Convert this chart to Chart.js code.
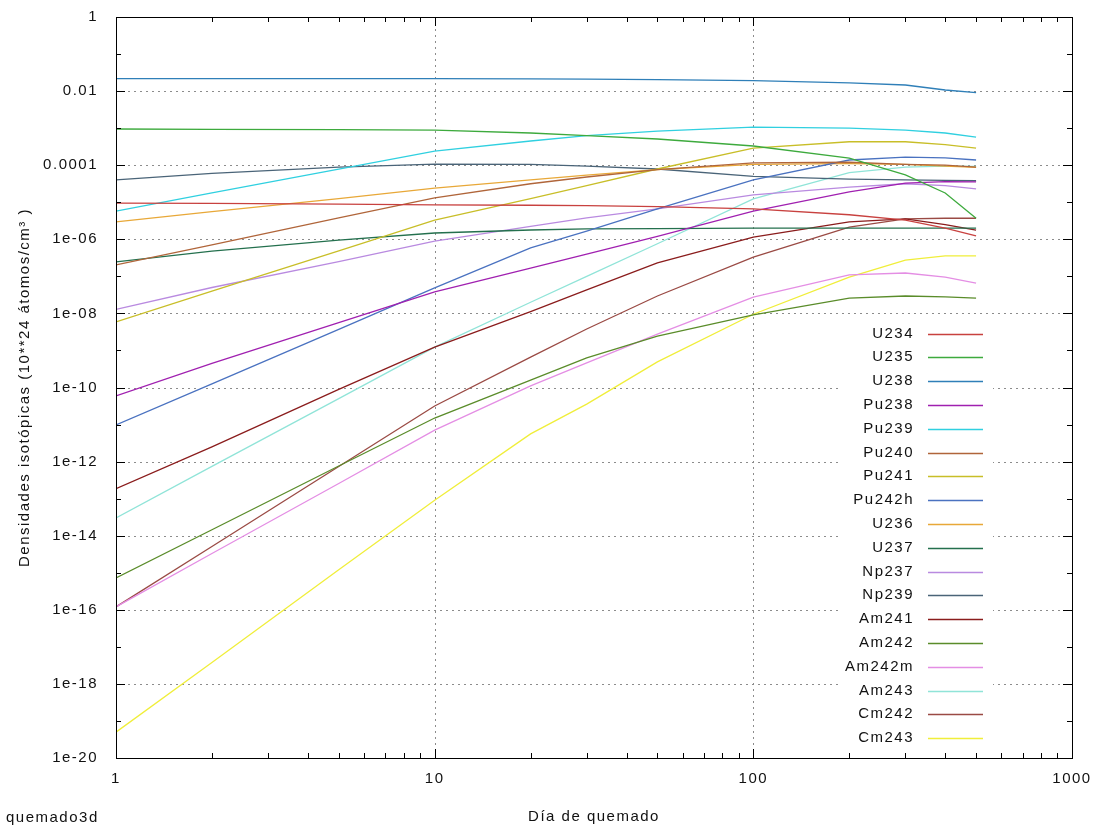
<!DOCTYPE html>
<html>
<head>
<meta charset="utf-8">
<script src="https://cdn.jsdelivr.net/npm/chart.js@4.4.0/dist/chart.umd.min.js"></script>
<style>
  html, body { margin: 0; padding: 0; background: #fff; }
</style>
</head>
<body>
<canvas id="grafico" width="1096" height="826"></canvas>
<script>
// dias de quemado (eje x)
const dias = [1, 2, 5, 10, 20, 30, 50, 100, 200, 300, 400, 500];

// densidades (10**24 atomos/cm3)
const u234   = [9.5e-6, 9.3e-6, 8.9e-6, 8.5e-6, 8.3e-6, 8.1e-6, 7.6e-6, 6.6e-6, 4.6e-6, 3.3e-6, 2.0e-6, 1.23e-6];
const u235   = [9.5e-4, 9.3e-4, 9.1e-4, 8.9e-4, 7.4e-4, 6.3e-4, 5.1e-4, 3.3e-4, 1.55e-4, 5.5e-5, 1.78e-5, 3.7e-6];
const u238   = [2.16e-2, 2.16e-2, 2.16e-2, 2.16e-2, 2.14e-2, 2.1e-2, 2.04e-2, 1.91e-2, 1.66e-2, 1.46e-2, 1.07e-2, 9.1e-3];
const pu238  = [5.9e-11, 4.5e-10, 5.6e-9, 3.8e-8, 1.66e-7, 4.0e-7, 1.2e-6, 5.75e-6, 1.9e-5, 3.3e-5, 3.6e-5, 3.55e-5];
const pu239  = [5.75e-6, 1.78e-5, 7.8e-5, 2.4e-4, 4.5e-4, 6.3e-4, 8.3e-4, 1.07e-3, 1.0e-3, 8.9e-4, 7.4e-4, 5.75e-4];
const pu240  = [2.04e-7, 7.1e-7, 3.8e-6, 1.32e-5, 3.16e-5, 4.8e-5, 7.6e-5, 1.15e-4, 1.2e-4, 1.05e-4, 1.0e-4, 8.9e-5];
const pu241  = [5.9e-9, 4.0e-8, 4.9e-7, 3.3e-6, 1.26e-5, 2.8e-5, 7.9e-5, 2.9e-4, 4.3e-4, 4.3e-4, 3.6e-4, 2.9e-4];
const pu242h = [9.8e-12, 1.26e-10, 3.7e-9, 4.9e-8, 5.9e-7, 1.66e-6, 6.6e-6, 4.0e-5, 1.38e-4, 1.66e-4, 1.58e-4, 1.38e-4];
const u236   = [2.95e-6, 5.6e-6, 1.26e-5, 2.4e-5, 4.0e-5, 5.4e-5, 7.6e-5, 1.05e-4, 1.1e-4, 1.05e-4, 9.5e-5, 8.7e-5];
const u237   = [2.45e-7, 4.8e-7, 9.5e-7, 1.48e-6, 1.78e-6, 1.9e-6, 1.95e-6, 2.0e-6, 2.0e-6, 2.0e-6, 2.0e-6, 2.0e-6];
const np237  = [1.29e-8, 5.0e-8, 2.5e-7, 8.9e-7, 2.24e-6, 3.8e-6, 6.6e-6, 1.58e-5, 2.57e-5, 3.16e-5, 2.8e-5, 2.3e-5];
const np239  = [4.0e-5, 6.0e-5, 8.9e-5, 1.07e-4, 1.05e-4, 9.5e-5, 7.9e-5, 5.0e-5, 4.2e-5, 4.0e-5, 3.9e-5, 3.8e-5];
const am241  = [1.86e-13, 2.5e-12, 8.9e-11, 1.23e-9, 1.12e-8, 4.3e-8, 2.3e-7, 1.15e-6, 2.95e-6, 3.55e-6, 2.5e-6, 1.78e-6];
const am242  = [7.2e-16, 1.45e-14, 7.6e-13, 1.5e-11, 1.58e-10, 6.3e-10, 2.45e-9, 9.1e-9, 2.6e-8, 2.95e-8, 2.8e-8, 2.6e-8];
const am242m = [1.2e-16, 3.3e-15, 2.57e-13, 7.1e-12, 1.1e-10, 4.6e-10, 2.75e-9, 2.75e-8, 1.1e-7, 1.23e-7, 9.5e-8, 6.6e-8];
const am243  = [3.0e-14, 7.4e-13, 5.0e-11, 1.23e-9, 2.0e-8, 1.0e-7, 7.6e-7, 1.23e-5, 6.3e-5, 8.9e-5, 9.5e-5, 9.3e-5];
const cm242  = [1.2e-16, 5.1e-15, 7.4e-13, 3.16e-11, 6.6e-10, 3.8e-9, 2.95e-8, 3.3e-7, 2.14e-6, 3.55e-6, 3.7e-6, 3.7e-6];
const cm243  = [5.0e-20, 3.8e-18, 1.2e-15, 9.1e-14, 5.6e-12, 3.55e-11, 4.9e-10, 9.5e-9, 9.5e-8, 2.75e-7, 3.55e-7, 3.55e-7];

const isotopos = ['U234', 'U235', 'U238', 'Pu238', 'Pu239', 'Pu240', 'Pu241', 'Pu242h', 'U236',
                  'U237', 'Np237', 'Np239', 'Am241', 'Am242', 'Am242m', 'Am243', 'Cm242', 'Cm243'];
const series = [u234, u235, u238, pu238, pu239, pu240, pu241, pu242h, u236,
                u237, np237, np239, am241, am242, am242m, am243, cm242, cm243];
const colores = ['#c8413f', '#3daa3d', '#2f7fb8', '#a020b0', '#30d0e0', '#b0653a', '#c8be28', '#4a72c0', '#e8a838',
                 '#24704e', '#b98ae0', '#4a6478', '#8a1c1c', '#5a8c2a', '#e48ee4', '#90e4d8', '#9a4a44', '#f0ee3a'];

// ticks
const ticksX = [1, 10, 100, 1000];
const etiquetasX = ['1', '10', '100', '1000'];
const ticksY = [1, 1e-2, 1e-4, 1e-6, 1e-8, 1e-10, 1e-12, 1e-14, 1e-16, 1e-18, 1e-20];
const etiquetasY = ['1', '0.01', '0.0001', '1e-06', '1e-08', '1e-10', '1e-12', '1e-14', '1e-16', '1e-18', '1e-20'];

const FUENTE = 'Liberation Sans';

const marco = {
  id: 'marco',
  beforeDraw(chart) {
    chart.ctx.letterSpacing = '1.5px';
  },
  beforeDatasetsDraw(chart) {
    const {ctx, chartArea: a, scales: {x, y}} = chart;
    ctx.save();
    ctx.strokeStyle = '#8c8c8c';
    ctx.lineWidth = 1;
    ctx.setLineDash([2, 4]);
    ticksX.slice(1, -1).forEach(v => {
      const px = Math.round(x.getPixelForValue(v)) + 0.5;
      ctx.beginPath(); ctx.moveTo(px, a.top); ctx.lineTo(px, a.bottom); ctx.stroke();
    });
    ticksY.slice(1, -1).forEach(v => {
      const py = Math.round(y.getPixelForValue(v)) + 0.5;
      ctx.beginPath(); ctx.moveTo(a.left, py); ctx.lineTo(a.right, py); ctx.stroke();
    });
    ctx.setLineDash([]);
    // fondo de la leyenda
    ctx.fillStyle = '#fff';
    ctx.fillRect(838, 322, 155, 428);
    ctx.restore();
  },
  afterDatasetsDraw(chart) {
    const {ctx, chartArea: a, scales: {x, y}} = chart;
    ctx.save();
    ctx.strokeStyle = '#000';
    ctx.lineWidth = 1;
    ctx.strokeRect(Math.round(a.left) + 0.5, Math.round(a.top) + 0.5,
                   Math.round(a.right - a.left), Math.round(a.bottom - a.top));

    const marca = (x0, y0, x1, y1) => { ctx.beginPath(); ctx.moveTo(x0, y0); ctx.lineTo(x1, y1); ctx.stroke(); };
    // marcas eje x
    for (let k = 0; k < 3; k++) {
      for (let m = 1; m <= 10; m++) {
        const v = m * Math.pow(10, k);
        const px = Math.round(x.getPixelForValue(v)) + 0.5;
        const len = (m === 1 || m === 10) ? 9 : 5;
        marca(px, a.bottom, px, a.bottom - len);
        marca(px, a.top, px, a.top + len);
      }
    }
    // marcas eje y
    for (let e = 0; e >= -20; e--) {
      const py = Math.round(y.getPixelForValue(Math.pow(10, e))) + 0.5;
      const len = (e % 2 === 0) ? 9 : 5;
      marca(a.left, py, a.left + len, py);
      marca(a.right, py, a.right - len, py);
    }

    // leyenda
    ctx.font = '15px "' + FUENTE + '"';
    ctx.letterSpacing = '1.5px';
    ctx.textAlign = 'right';
    ctx.textBaseline = 'middle';
    chart.data.datasets.forEach((ds, i) => {
      const ly = 333.5 + i * 23.8;
      ctx.fillStyle = '#111';
      ctx.fillText(ds.label, 914, ly);
      ctx.strokeStyle = ds.borderColor;
      ctx.lineWidth = 1.3;
      marca(928, Math.round(ly) + 0.5, 983, Math.round(ly) + 0.5);
    });

    ctx.textAlign = 'left';
    ctx.fillStyle = '#111';
    ctx.fillText('quemado3d', 6, 818);
    ctx.restore();
  }
};

const datasets = isotopos.map((nombre, i) => ({
  label: nombre,
  data: dias.map((d, j) => ({x: d, y: series[i][j]})),
  borderColor: colores[i],
  backgroundColor: colores[i],
  borderWidth: 1.3,
  pointRadius: 0,
  tension: 0,
  fill: false
}));

new Chart(document.getElementById('grafico').getContext('2d'), {
  type: 'line',
  data: { datasets: datasets },
  options: {
    responsive: false,
    animation: false,
    devicePixelRatio: 1,
    layout: { padding: { top: 17, right: 24, left: 0, bottom: 0 } },
    plugins: { legend: { display: false }, tooltip: { enabled: false } },
    scales: {
      x: {
        type: 'logarithmic',
        position: 'bottom',
        min: 1,
        max: 1000,
        grid: { display: false, drawTicks: false },
        border: { display: false },
        afterBuildTicks: s => { s.ticks = ticksX.map(v => ({value: v})); },
        afterFit: s => { s.height = 68; s.paddingLeft = 0; s.paddingRight = 0; },
        ticks: {
          autoSkip: false,
          maxRotation: 0,
          padding: 12,
          color: '#111',
          font: { family: FUENTE, size: 15 },
          callback: v => etiquetasX[ticksX.indexOf(v)]
        },
        title: {
          display: true,
          text: 'Día de quemado',
          color: '#111',
          font: { family: FUENTE, size: 15 },
          padding: { top: 0, bottom: 0 }
        }
      },
      y: {
        type: 'logarithmic',
        position: 'left',
        min: 1e-20,
        max: 1,
        grid: { display: false, drawTicks: false },
        border: { display: false },
        afterBuildTicks: s => { s.ticks = ticksY.map(v => ({value: v})); },
        afterFit: s => { s.width = 116; s.paddingTop = 0; s.paddingBottom = 0; },
        ticks: {
          autoSkip: false,
          padding: 18,
          color: '#111',
          font: { family: FUENTE, size: 15 },
          callback: v => etiquetasY[ticksY.indexOf(v)]
        },
        title: {
          display: true,
          text: 'Densidades isotópicas (10**24 átomos/cm³ )',
          color: '#111',
          font: { family: FUENTE, size: 15 },
          padding: { top: 16, bottom: 0 }
        }
      }
    }
  },
  plugins: [marco]
});
</script>
</body>
</html>
